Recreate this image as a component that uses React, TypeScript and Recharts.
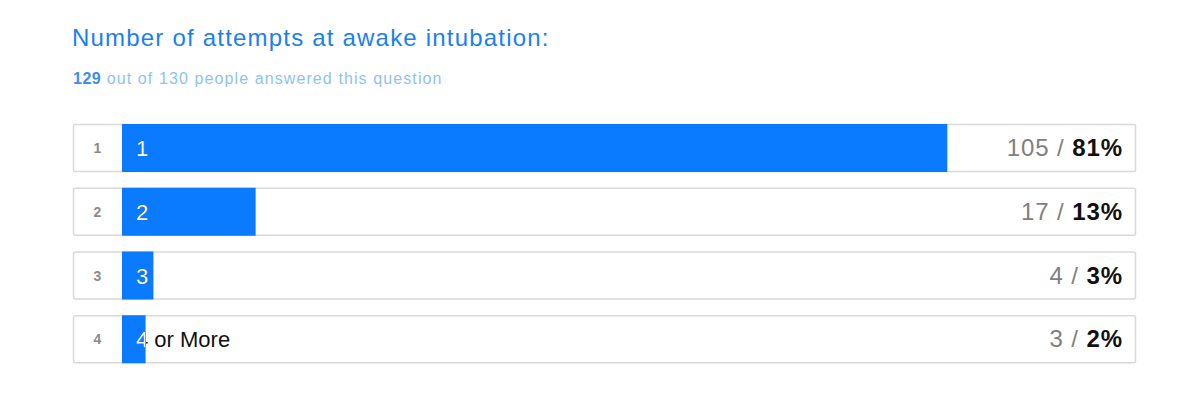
import React from 'react';
import { BarChart, Bar, XAxis, YAxis } from 'recharts';

const categories = ['1', '2', '3', '4 or More'];
const counts = [105, 17, 4, 3];
const percents = [81, 13, 3, 2];
const answered = 129;
const total = 130;

const data = categories.map((name, i) => ({ name, count: counts[i], pct: percents[i] }));

const BLUE = '#0a7bff';
const FONT = '"Liberation Sans", Arial, Helvetica, sans-serif';
const NUM_CELL = 49;

// background: whole row box, index cell and the count / percent at the right
const RowBox = (props: any) => {
  const { x, y, width, height } = props;
  const idx = props.index ?? 0;
  const row = data[idx];
  const left = x - NUM_CELL;
  const right = x + width;
  const cy = y + height / 2;
  return (
    <g>
      <rect x={left + 0.5} y={y - 0.5} width={right - left - 1} height={height + 1} fill="#fff" stroke="#d9d9d9" strokeWidth={1.5} rx={2} />
      <text x={left + NUM_CELL / 2} y={cy + 5} textAnchor="middle" fontFamily={FONT} fontSize={14} fontWeight={700} fill="#8c8c8c">
        {idx + 1}
      </text>
      {row && (
        <text x={right - 13} y={cy + 8} textAnchor="end" fontFamily={FONT} fontSize={24} letterSpacing={0.9}>
          <tspan fill="#7f7f7f">{row.count} / </tspan>
          <tspan fill="#111" fontWeight={700}>{row.pct}%</tspan>
        </text>
      )}
    </g>
  );
};

// blue fill; the label is white where it sits on the bar, black past it
const FillBar = (props: any) => {
  const { x, y, width, height, index, payload } = props;
  const cy = y + height / 2;
  const id = `clip-bar-${index}`;
  const label = payload?.name ?? '';
  return (
    <g>
      <defs>
        <clipPath id={id}>
          <rect x={x} y={y} width={width} height={height} />
        </clipPath>
      </defs>
      <rect x={x} y={y - 1} width={width} height={height + 2} fill={BLUE} />
      <text x={x + 14} y={cy + 8} fontFamily={FONT} fontSize={22} fill="#111">{label}</text>
      <text x={x + 14} y={cy + 8} fontFamily={FONT} fontSize={22} fill="#fff" clipPath={`url(#${id})`}>{label}</text>
    </g>
  );
};

export default function App() {
  return (
    <div style={{ position: 'fixed', left: 0, top: 0, width: 1200, height: 400, background: '#fff', fontFamily: FONT }}>
      <div style={{ position: 'absolute', left: 72, top: 24, fontSize: 24, letterSpacing: 1.2, color: '#1a80f0', whiteSpace: 'nowrap' }}>
        Number of attempts at awake intubation:
      </div>
      <div style={{ position: 'absolute', left: 73, top: 70, fontSize: 16, letterSpacing: 1.1, color: '#8ec2f7', whiteSpace: 'nowrap' }}>
        <b style={{ color: '#3b8fea', letterSpacing: 0.5 }}>{answered}</b> out of {total} people answered this question
      </div>
      <div style={{ position: 'absolute', left: 0, top: 0 }}>
        <BarChart
          width={1200}
          height={400}
          data={data}
          layout="vertical"
          margin={{ top: 116, right: 64, bottom: 29, left: 122 }}
          barCategoryGap={0}
        >
          <XAxis type="number" dataKey="count" domain={[0, answered]} hide />
          <YAxis type="category" dataKey="name" hide />
          <Bar
            dataKey="count"
            barSize={46}
            isAnimationActive={false}
            background={<RowBox />}
            shape={<FillBar />}
          />
        </BarChart>
      </div>
    </div>
  );
}
